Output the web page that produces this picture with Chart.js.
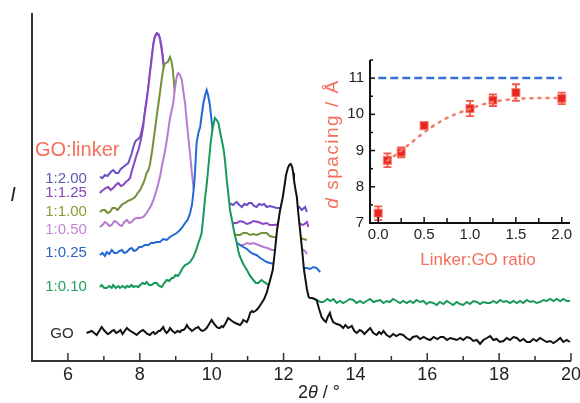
<!DOCTYPE html>
<html>
<head>
<meta charset="utf-8">
<script src="https://cdn.jsdelivr.net/npm/chart.js@4.4.1/dist/chart.umd.min.js"></script>
<style>
  html, body { margin: 0; padding: 0; background: #fff; }
  #wrap { position: relative; width: 580px; height: 403px; }
  #main { position: absolute; left: 0; top: 0; }
  #inset { position: absolute; left: 300px; top: 40px; }
</style>
</head>
<body>
<div id="wrap">
  <canvas id="main" width="580" height="403"></canvas>
  <canvas id="inset" width="280" height="240"></canvas>
</div>
<script>
// XRD traces: [2theta, intensity (offset, arb. units)]
const seriesNames = ['GO', '1:0.10', '1:0.25', '1:0.50', '1:1.00', '1:1.25', '1:2.00'];

const traceGO = [
  [6.52,28],[6.59,29],[6.66,30],[6.73,28],[6.80,26],[6.87,30],[6.94,34],[7.00,31],[7.05,29],[7.11,27],
  [7.17,28],[7.22,30],[7.28,31],[7.34,28],[7.40,29],[7.46,31],[7.52,27],[7.58,30],[7.64,33],[7.70,31],
  [7.78,29],[7.84,28],[7.91,26],[7.97,28],[8.03,30],[8.09,31],[8.15,29],[8.21,27],[8.28,26],[8.33,28],
  [8.38,29],[8.42,27],[8.47,28],[8.52,30],[8.56,30],[8.61,32],[8.65,34],[8.70,30],[8.75,28],[8.80,30],
  [8.84,33],[8.91,30],[8.98,28],[9.05,30],[9.12,29],[9.17,31],[9.22,31],[9.27,33],[9.31,36],[9.36,33],
  [9.40,32],[9.45,30],[9.49,31],[9.56,33],[9.63,34],[9.69,31],[9.75,30],[9.80,31],[9.86,33],[9.93,37],
  [10.00,41],[10.07,37],[10.14,34],[10.19,33],[10.23,33],[10.28,35],[10.32,34],[10.39,38],[10.46,43],[10.53,41],
  [10.60,39],[10.66,38],[10.72,37],[10.79,36],[10.84,38],[10.88,41],[10.93,40],[10.98,39],[11.03,43],[11.07,48],
  [11.12,50],[11.16,49],[11.21,50],[11.25,51],[11.32,54],[11.39,58],[11.46,62],[11.53,68],[11.62,80],[11.70,91],
  [11.76,110],[11.82,131],[11.90,150],[11.98,164],[12.03,176],[12.07,186],[12.12,193],[12.16,196],[12.20,197],[12.24,194],
  [12.27,188],[12.29,181],[12.33,172],[12.37,164],[12.41,148],[12.46,131],[12.52,110],[12.57,91],[12.65,72],[12.70,64],
  [12.74,63],[12.80,63],[12.86,62],[12.92,61],[12.99,52],[13.06,44],[13.12,41],[13.18,39],[13.23,44],[13.29,48],
  [13.33,43],[13.38,39],[13.48,37],[13.57,36],[13.66,33],[13.72,36],[13.80,33],[13.90,35],[13.97,30],[14.04,28],
  [14.12,31],[14.18,30],[14.25,27],[14.33,30],[14.41,33],[14.50,28],[14.59,26],[14.66,29],[14.72,27],[14.78,30],
  [14.87,26],[14.96,24],[15.05,27],[15.14,25],[15.24,27],[15.33,26],[15.42,23],[15.52,21],[15.60,24],[15.71,25],
  [15.80,22],[15.90,24],[16.00,22],[16.08,21],[16.18,24],[16.28,22],[16.37,24],[16.45,24],[16.55,21],[16.64,23],
  [16.74,22],[16.82,21],[16.92,23],[17.00,21],[17.10,24],[17.19,23],[17.28,20],[17.38,21],[17.47,17],[17.56,21],
  [17.66,23],[17.75,25],[17.84,21],[17.93,22],[18.02,19],[18.12,20],[18.21,23],[18.30,21],[18.40,24],[18.49,23],
  [18.58,20],[18.68,22],[18.77,19],[18.86,19],[18.95,22],[19.04,20],[19.14,23],[19.23,21],[19.32,19],[19.42,20],
  [19.51,18],[19.60,20],[19.70,23],[19.79,19],[19.88,21],[19.97,19]
];

const trace010 = [
  [6.89,74],[6.94,76],[7.01,73],[7.08,73],[7.15,75],[7.22,73],[7.26,76],[7.33,73],[7.40,75],[7.45,73],
  [7.52,75],[7.59,73],[7.64,75],[7.71,74],[7.77,76],[7.82,74],[7.89,75],[7.96,74],[8.01,76],[8.08,78],
  [8.14,77],[8.19,79],[8.26,76],[8.33,76],[8.40,78],[8.47,78],[8.54,75],[8.61,74],[8.68,78],[8.75,81],
  [8.82,80],[8.89,83],[8.93,83],[9.00,86],[9.06,85],[9.12,88],[9.19,93],[9.26,96],[9.33,97],[9.40,99],
  [9.49,104],[9.56,110],[9.63,118],[9.68,123],[9.72,128],[9.77,145],[9.81,161],[9.86,176],[9.90,191],[9.94,206],
  [9.98,221],[10.03,233],[10.09,243],[10.14,241],[10.19,238],[10.23,230],[10.28,221],[10.33,212],[10.37,201],[10.42,181],
  [10.47,165],[10.51,151],[10.56,142],[10.60,134],[10.65,125],[10.70,118],[10.74,110],[10.79,104],[10.88,97],[10.98,91],
  [11.07,85],[11.16,81],[11.23,78],[11.30,78],[11.35,80],[11.39,81],[11.45,79],[11.51,78],[11.60,75],[11.76,71],
  [12.00,67],[12.32,64],[12.60,62],[12.92,61],[13.03,59],[13.11,59],[13.22,62],[13.30,60],[13.39,62],[13.48,58],
  [13.57,60],[13.66,58],[13.76,60],[13.85,62],[13.94,61],[14.03,58],[14.13,60],[14.22,58],[14.31,60],[14.41,62],
  [14.50,59],[14.59,60],[14.69,61],[14.78,58],[14.87,60],[14.96,59],[15.05,62],[15.15,60],[15.24,58],[15.33,60],
  [15.43,58],[15.52,60],[15.61,58],[15.70,61],[15.80,59],[15.89,60],[15.98,57],[16.07,59],[16.17,58],[16.26,56],
  [16.35,59],[16.45,57],[16.54,60],[16.63,58],[16.72,56],[16.82,59],[16.91,57],[17.00,56],[17.10,59],[17.19,57],
  [17.28,60],[17.38,59],[17.47,57],[17.56,59],[17.66,58],[17.75,58],[17.84,60],[17.93,58],[18.03,61],[18.12,59],
  [18.21,60],[18.30,58],[18.40,60],[18.49,58],[18.58,60],[18.67,58],[18.77,61],[18.86,59],[18.95,60],[19.04,58],
  [19.14,59],[19.23,61],[19.32,60],[19.42,62],[19.51,60],[19.60,62],[19.70,60],[19.79,62],[19.88,60],[19.97,60]
];

const trace025 = [
  [6.89,106],[6.96,108],[7.03,105],[7.08,109],[7.15,107],[7.22,111],[7.29,108],[7.36,108],[7.43,110],[7.50,111],
  [7.57,108],[7.64,109],[7.71,112],[7.77,113],[7.84,110],[7.91,111],[7.98,114],[8.05,114],[8.14,116],[8.24,116],
  [8.31,118],[8.38,118],[8.47,119],[8.56,119],[8.65,122],[8.75,121],[8.84,124],[8.93,126],[9.03,128],[9.12,131],
  [9.19,134],[9.26,138],[9.33,141],[9.40,148],[9.45,156],[9.49,168],[9.52,180],[9.54,191],[9.58,218],[9.63,228],
  [9.68,234],[9.72,245],[9.77,258],[9.82,266],[9.86,271],[9.90,266],[9.95,256],[10.01,236],[10.05,222],[10.09,211],
  [10.18,186],[10.29,161],[10.40,141],[10.51,129],[10.60,121],[10.70,118],[10.79,116],[10.88,114],[10.98,112],[11.07,109],
  [11.16,107],[11.25,106],[11.35,103],[11.44,101],[11.53,99],[11.62,98],[12.00,95],[12.46,93],[12.65,93],[12.74,92],
  [12.83,94],[12.92,93],[13.02,89]
];

const trace050 = [
  [6.89,134],[6.96,136],[7.03,139],[7.08,138],[7.15,135],[7.22,136],[7.29,140],[7.36,139],[7.43,136],[7.50,135],
  [7.57,139],[7.64,141],[7.71,138],[7.77,139],[7.84,142],[7.91,143],[8.01,143],[8.10,144],[8.17,147],[8.24,151],
  [8.31,155],[8.38,161],[8.45,169],[8.52,178],[8.57,186],[8.62,196],[8.68,206],[8.73,216],[8.79,230],[8.84,243],
  [8.89,251],[8.93,258],[8.97,270],[9.01,281],[9.04,286],[9.07,288],[9.12,286],[9.17,281],[9.21,270],[9.26,258],
  [9.30,242],[9.35,224],[9.40,207],[9.44,191],[9.49,175],[9.54,161],[9.61,147],[9.68,136],[9.80,128],[9.95,123],
  [10.15,121],[10.37,119],[10.54,118],[10.70,118],[10.79,116],[10.88,116],[10.98,118],[11.07,117],[11.16,118],[11.30,116],
  [11.44,114],[11.55,113],[11.67,111],[12.00,111],[12.46,112],[12.55,111],[12.60,110],[12.65,107]
];

const trace100 = [
  [6.89,149],[6.96,151],[7.03,151],[7.10,148],[7.17,149],[7.24,153],[7.31,153],[7.38,151],[7.45,154],[7.52,157],
  [7.59,158],[7.66,160],[7.73,161],[7.80,162],[7.87,164],[7.94,168],[8.01,171],[8.06,175],[8.10,178],[8.15,183],
  [8.19,188],[8.24,191],[8.28,196],[8.35,212],[8.42,231],[8.49,250],[8.56,268],[8.61,282],[8.65,291],[8.69,297],
  [8.73,298],[8.78,299],[8.84,304],[8.88,300],[8.92,291],[8.95,278],[8.98,264],[9.02,247],[9.06,231],[9.11,211],
  [9.17,191],[9.25,175],[9.34,161],[9.50,150],[9.68,141],[9.90,135],[10.09,131],[10.35,129],[10.60,128],[10.70,126],
  [10.79,126],[10.88,128],[10.98,128],[11.07,126],[11.16,127],[11.25,126],[11.39,128],[11.53,128],[11.62,125],[11.72,124],
  [12.00,123],[12.46,123],[12.55,122],[12.65,121]
];

const trace125 = [
  [6.89,168],[6.94,170],[6.98,171],[7.05,173],[7.12,174],[7.19,171],[7.26,173],[7.33,176],[7.40,178],[7.47,175],
  [7.54,176],[7.61,179],[7.68,181],[7.73,183],[7.77,189],[7.82,195],[7.87,201],[7.91,206],[7.96,211],[8.01,218],
  [8.05,225],[8.10,236],[8.14,248],[8.19,260],[8.24,274],[8.28,287],[8.33,302],[8.38,317],[8.42,324],[8.47,327],
  [8.52,326],[8.56,322],[8.61,311],[8.65,299],[8.70,279],[8.76,256],[8.83,226],[8.90,201],[8.98,180],[9.06,166],
  [9.20,155],[9.40,149],[9.70,144],[9.95,142],[10.30,140],[10.51,139],[10.60,138],[10.70,138],[10.79,140],[10.88,139],
  [10.98,137],[11.07,138],[11.16,140],[11.30,139],[11.42,137],[11.53,138],[11.62,136],[11.72,136],[12.00,137],[12.37,138],
  [12.46,137],[12.55,136],[12.65,139],[12.69,134]
];

const trace200 = [
  [6.89,184],[6.96,183],[7.03,186],[7.10,185],[7.17,188],[7.22,190],[7.26,191],[7.33,188],[7.40,188],[7.47,192],
  [7.54,194],[7.61,196],[7.68,198],[7.73,203],[7.77,207],[7.82,214],[7.87,219],[7.91,221],[7.96,222],[8.01,224],
  [8.05,230],[8.10,238],[8.14,249],[8.19,261],[8.24,274],[8.28,288],[8.33,303],[8.38,318],[8.42,325],[8.47,328],
  [8.52,327],[8.56,323],[8.61,313],[8.65,301],[8.70,281],[8.76,256],[8.83,232],[8.90,211],[8.98,193],[9.06,181],
  [9.29,166],[9.68,161],[10.09,159],[10.46,158],[10.54,157],[10.60,156],[10.65,158],[10.70,159],[10.77,156],[10.84,154],
  [10.91,157],[10.98,156],[11.04,158],[11.11,158],[11.18,155],[11.25,154],[11.32,157],[11.39,156],[11.46,157],[11.53,154],
  [11.62,155],[11.81,153],[12.37,153],[12.44,154],[12.51,151],[12.60,154],[12.65,149]
];

const thetaMajor = [6, 8, 10, 12, 14, 16, 18, 20];
const thetaMinor = [7, 9, 11, 13, 15, 17, 19];

// inset: d spacing vs linker ratio
const linkerRatio = [0, 0.1, 0.25, 0.5, 1.0, 1.25, 1.5, 2.0];
const dSpacing = [7.27, 8.73, 8.95, 9.69, 10.16, 10.39, 10.6, 10.44];
const dError = [0.19, 0.19, 0.14, 0.08, 0.21, 0.16, 0.23, 0.16];
const fitRatio = [0.1, 0.25, 0.4, 0.5, 0.6, 0.75, 0.9, 1.0, 1.1, 1.25, 1.4, 1.6, 1.8, 2.0];
const fitSpacing = [8.72, 9.0, 9.3, 9.5, 9.68, 9.9, 10.06, 10.15, 10.24, 10.34, 10.4, 10.44, 10.45, 10.45];
const goRatio = [0, 2.0];
const goSpacing = [11, 11];
const ratioMajor = [0, 0.5, 1.0, 1.5, 2.0];
const ratioMinor = [0.25, 0.75, 1.25, 1.75];
const spacingMajor = [7, 8, 9, 10, 11];
const spacingMinor = [7.5, 8.5, 9.5, 10.5, 11.5];

const traces = [traceGO, trace010, trace025, trace050, trace100, trace125, trace200];
const lineColors = ['#111111', '#17995a', '#2468d4', '#b57bd0', '#72913a', '#8a47bf', '#6b4fc6'];
const labelColors = ['#2b2b2b', '#22a062', '#2e65c6', '#c285d4', '#8f9a34', '#8446b4', '#5a58b6'];
const labelDy = [1, 0, -2, 3, 0, 0, 2];

const FONT = '"Liberation Sans", Arial, sans-serif';
const SALMON = '#f3705a';

const mainDecor = {
  id: 'mainDecor',
  afterDraw(chart) {
    const { ctx, chartArea: a, scales: { x, y } } = chart;
    ctx.save();
    // axes
    ctx.strokeStyle = '#333';
    ctx.lineWidth = 2;
    ctx.beginPath();
    ctx.moveTo(a.left, a.top);
    ctx.lineTo(a.left, a.bottom);
    ctx.lineTo(a.right, a.bottom);
    ctx.stroke();
    ctx.lineWidth = 1.5;
    thetaMajor.forEach(v => {
      const px = x.getPixelForValue(v);
      ctx.beginPath(); ctx.moveTo(px, a.bottom); ctx.lineTo(px, a.bottom - 8); ctx.stroke();
    });
    thetaMinor.forEach(v => {
      const px = x.getPixelForValue(v);
      ctx.beginPath(); ctx.moveTo(px, a.bottom); ctx.lineTo(px, a.bottom - 5); ctx.stroke();
    });

    // series labels next to the start of each trace
    ctx.font = '15px ' + FONT;
    ctx.textAlign = 'right';
    ctx.textBaseline = 'middle';
    chart.data.datasets.forEach((ds, i) => {
      const p = ds.data[0];
      ctx.fillStyle = labelColors[i];
      ctx.fillText(ds.label, x.getPixelForValue(p.x) - 13, y.getPixelForValue(p.y) + labelDy[i]);
    });

    ctx.fillStyle = SALMON;
    ctx.font = '20px ' + FONT;
    ctx.textAlign = 'left';
    ctx.fillText('GO:linker', a.left + 3, 150);

    // y title
    ctx.fillStyle = '#222';
    ctx.font = 'italic 20px ' + FONT;
    ctx.textAlign = 'center';
    ctx.fillText('I', 13, 195);

    // x title: 2θ / °
    const parts = [['2', ''], ['θ', 'italic '], [' / °', '']];
    ctx.font = '18px ' + FONT;
    let w = 0;
    parts.forEach(p => { ctx.font = p[1] + '18px ' + FONT; w += ctx.measureText(p[0]).width; });
    let cx = 319 - w / 2;
    ctx.textAlign = 'left';
    parts.forEach(p => {
      ctx.font = p[1] + '18px ' + FONT;
      ctx.fillText(p[0], cx, 393);
      cx += ctx.measureText(p[0]).width;
    });
    ctx.restore();
  }
};

const mainChart = new Chart(document.getElementById('main'), {
  type: 'line',
  data: {
    datasets: traces.map((t, i) => ({
      label: seriesNames[i],
      data: t.map(p => ({ x: p[0], y: p[1] })),
      borderColor: lineColors[i],
      borderWidth: 2,
      pointRadius: 0,
      tension: 0,
      fill: { value: 8 },
      backgroundColor: '#ffffff'
    }))
  },
  options: {
    responsive: false,
    animation: false,
    layout: { padding: { left: 32, right: 9, top: 13, bottom: 0 } },
    plugins: { legend: { display: false }, tooltip: { enabled: false } },
    scales: {
      x: {
        type: 'linear',
        min: 5,
        max: 20,
        afterBuildTicks: s => { s.ticks = thetaMajor.map(v => ({ value: v })); },
        afterFit: s => { s.height = 42; s.paddingLeft = 0; s.paddingRight = 0; },
        grid: { display: false, drawTicks: false },
        border: { display: false },
        ticks: { color: '#222', font: { size: 18, family: FONT }, padding: 3, maxRotation: 0, autoSkip: false }
      },
      y: { display: false, min: 0, max: 348 }
    }
  },
  plugins: [mainDecor]
});

const insetDecor = {
  id: 'insetDecor',
  beforeDatasetsDraw(chart) {
    const { ctx, scales: { x, y } } = chart;
    ctx.save();
    ctx.strokeStyle = '#f2574a';
    ctx.lineWidth = 1.8;
    linkerRatio.forEach((r, i) => {
      const px = x.getPixelForValue(r);
      const top = y.getPixelForValue(dSpacing[i] + dError[i]);
      const bot = y.getPixelForValue(dSpacing[i] - dError[i]);
      ctx.beginPath();
      ctx.moveTo(px, top); ctx.lineTo(px, bot);
      ctx.moveTo(px - 4, top); ctx.lineTo(px + 4, top);
      ctx.moveTo(px - 4, bot); ctx.lineTo(px + 4, bot);
      ctx.stroke();
    });
    ctx.restore();
  },
  afterDraw(chart) {
    const { ctx, chartArea: a, scales: { x, y } } = chart;
    ctx.save();
    ctx.strokeStyle = '#111';
    ctx.lineWidth = 2;
    ctx.beginPath();
    ctx.moveTo(a.left, a.top);
    ctx.lineTo(a.left, a.bottom);
    ctx.lineTo(a.right, a.bottom);
    ctx.stroke();
    ctx.lineWidth = 1.5;
    ratioMajor.forEach(v => {
      const px = x.getPixelForValue(v);
      ctx.beginPath(); ctx.moveTo(px, a.bottom); ctx.lineTo(px, a.bottom - 6); ctx.stroke();
    });
    ratioMinor.forEach(v => {
      const px = x.getPixelForValue(v);
      ctx.beginPath(); ctx.moveTo(px, a.bottom); ctx.lineTo(px, a.bottom - 5); ctx.stroke();
    });
    spacingMajor.forEach(v => {
      const py = y.getPixelForValue(v);
      ctx.beginPath(); ctx.moveTo(a.left, py); ctx.lineTo(a.left + 5, py); ctx.stroke();
    });
    spacingMinor.forEach(v => {
      const py = y.getPixelForValue(v);
      ctx.beginPath(); ctx.moveTo(a.left, py); ctx.lineTo(a.left + 3, py); ctx.stroke();
    });

    // titles
    ctx.fillStyle = SALMON;
    ctx.textBaseline = 'middle';
    ctx.textAlign = 'center';
    ctx.font = '17px ' + FONT;
    ctx.fillText('Linker:GO ratio', 178, 220);

    ctx.translate(33, 104);
    ctx.rotate(-Math.PI / 2);
    ctx.letterSpacing = '1.5px';
    ctx.font = 'italic 19px ' + FONT;
    const wd = ctx.measureText('d').width;
    ctx.font = '19px ' + FONT;
    const wr = ctx.measureText(' spacing / Å').width;
    let sx = -(wd + wr) / 2;
    ctx.textAlign = 'left';
    ctx.font = 'italic 19px ' + FONT;
    ctx.fillText('d', sx, 0);
    ctx.font = '19px ' + FONT;
    ctx.fillText(' spacing / Å', sx + wd, 0);
    ctx.restore();
  }
};

const insetChart = new Chart(document.getElementById('inset'), {
  type: 'scatter',
  data: {
    datasets: [
      {
        type: 'line',
        data: goRatio.map((r, i) => ({ x: r, y: goSpacing[i] })),
        borderColor: '#3a6fd8',
        borderWidth: 2.5,
        borderDash: [8, 4],
        pointRadius: 0
      },
      {
        type: 'line',
        data: fitRatio.map((r, i) => ({ x: r, y: fitSpacing[i] })),
        borderColor: '#f47a68',
        borderWidth: 2.5,
        borderDash: [2, 6],
        borderCapStyle: 'round',
        tension: 0.4,
        pointRadius: 0
      },
      {
        data: linkerRatio.map((r, i) => ({ x: r, y: dSpacing[i] })),
        pointStyle: 'rect',
        pointRadius: 5.5,
        backgroundColor: '#e8261f',
        borderColor: 'rgba(242,104,94,0.6)',
        borderWidth: 1.5
      }
    ]
  },
  options: {
    responsive: false,
    animation: false,
    layout: { padding: { left: 0, right: 10, top: 20, bottom: 0 } },
    plugins: { legend: { display: false }, tooltip: { enabled: false } },
    scales: {
      x: {
        type: 'linear',
        min: -0.09,
        max: 2.09,
        afterBuildTicks: s => { s.ticks = ratioMajor.map(v => ({ value: v })); },
        afterFit: s => { s.height = 57; s.paddingLeft = 0; s.paddingRight = 0; },
        grid: { display: false, drawTicks: false },
        border: { display: false },
        ticks: {
          color: '#222', font: { size: 15, family: FONT }, padding: 3, maxRotation: 0, autoSkip: false,
          callback: v => v.toFixed(1)
        }
      },
      y: {
        min: 7,
        max: 11.5,
        afterBuildTicks: s => { s.ticks = spacingMajor.map(v => ({ value: v })); },
        afterFit: s => { s.width = 70; },
        grid: { display: false, drawTicks: false },
        border: { display: false },
        ticks: { color: '#222', font: { size: 15, family: FONT }, padding: 6, autoSkip: false }
      }
    }
  },
  plugins: [insetDecor]
});
</script>
</body>
</html>
